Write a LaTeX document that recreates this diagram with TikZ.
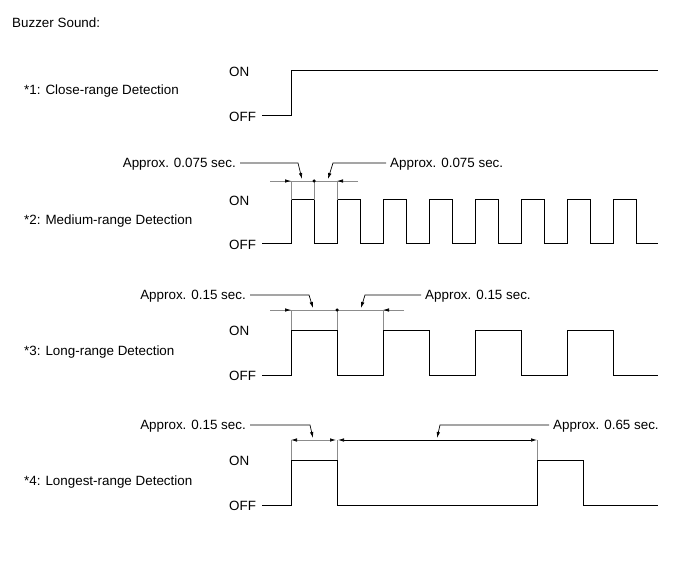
\documentclass[tikz,border=0pt]{standalone}
\usepackage{fontspec}
\setmainfont{Liberation Sans}
\usepackage{tikz}
\usetikzlibrary{calc,arrows.meta}
\tikzset{
    buzzer text/.style={font=\fontsize{13.4}{15}\selectfont, text=black, inner sep=0pt},
    row label/.style={buzzer text, anchor=west},
    level label/.style={buzzer text, anchor=west},
    wave/.style={line width=1pt, black},
    dim line/.style={line width=0.7pt, black!45},
    ext line/.style={line width=0.7pt, black!45},
    dim arrow/.style={line width=0.7pt, black!45, ->},
    leader/.style={line width=0.7pt, black, ->},
    dim dot/.style={circle, fill=black, inner sep=0pt, minimum size=3.5pt},
}

\begin{document}
\begin{tikzpicture}[x=1pt,y=-1pt,>={Latex[length=6pt,width=3.5pt,black]}]
    \useasboundingbox (0,0) rectangle (691,564);

    \node[row label] (title) at (12,23) {Buzzer Sound:};

    %Row labels
    \node[row label] (close) at (24,91) {*1: Close-range Detection};
    \node[row label] (medium) at (24,221) {*2: Medium-range Detection};
    \node[row label] (long) at (24,352) {*3: Long-range Detection};
    \node[row label] (longest) at (24,482) {*4: Longest-range Detection};

    %ON / OFF levels
    \foreach \r/\on/\off in {1/72/117, 2/201/245, 3/331/376, 4/461/506} {
        \node[level label] (on\r) at (229,\on) {ON};
        \node[level label] (off\r) at (229,\off) {OFF};
    }

    %Waveforms
    \draw[wave] (262,116) -- (291,116) -- (291,71) -- (658,71);
    \draw[wave] (262,244) \foreach \x in {291,337,...,613} { -- (\x,244) -- (\x,200) -- (\x+23,200) -- (\x+23,244) } -- (658,244);
    \draw[wave] (262,375) \foreach \x in {291,383,...,567} { -- (\x,375) -- (\x,330) -- (\x+46,330) -- (\x+46,375) } -- (658,375);
    \draw[wave] (262,505) -- (291,505) -- (291,460) -- (337,460) -- (337,505) -- (537,505) -- (537,460) -- (583,460) -- (583,505) -- (658,505);

    %Medium-range dimension
    \coordinate (m-a) at (291,181);
    \coordinate (m-b) at (314,181);
    \coordinate (m-c) at (337,181);
    \draw[dim line] ($(m-a)+(-21,0)$) -- ($(m-c)+(21,0)$);
    \draw[dim arrow] ($(m-a)+(-21,0)$) -- (m-a);
    \draw[dim arrow] ($(m-c)+(21,0)$) -- (m-c);
    \foreach \c in {m-a,m-b,m-c} \draw[ext line] (\c) -- ++(0,19);
    \node[dim dot] (m-dot) at (m-b) {};

    \node[buzzer text, anchor=east] (m-left) at (236,164) {Approx. 0.075 sec.};
    \node[buzzer text, anchor=west] (m-right) at (390,164) {Approx. 0.075 sec.};
    \coordinate (m-left-bend) at (298,163);
    \coordinate (m-left-tip) at (302,179);
    \coordinate (m-right-bend) at (333,163);
    \coordinate (m-right-tip) at (328,179);
    \draw[leader] ($(m-left.east)+(4,-1)$) -- (m-left-bend) -- (m-left-tip);
    \draw[leader] ($(m-right.west)+(-4,-1)$) -- (m-right-bend) -- (m-right-tip);

    %Long-range dimension
    \coordinate (l-a) at (291,310);
    \coordinate (l-b) at (337,310);
    \coordinate (l-c) at (383,310);
    \draw[dim line] ($(l-a)+(-21,0)$) -- ($(l-c)+(21,0)$);
    \draw[dim arrow] ($(l-a)+(-21,0)$) -- (l-a);
    \draw[dim arrow] ($(l-c)+(21,0)$) -- (l-c);
    \foreach \c in {l-a,l-b,l-c} \draw[ext line] (\c) -- ++(0,20);
    \node[dim dot] (l-dot) at (l-b) {};

    \node[buzzer text, anchor=east] (l-left) at (246,296) {Approx. 0.15 sec.};
    \node[buzzer text, anchor=west] (l-right) at (425,296) {Approx. 0.15 sec.};
    \coordinate (l-left-bend) at (309,295);
    \coordinate (l-left-tip) at (313,308);
    \coordinate (l-right-bend) at (365,295);
    \coordinate (l-right-tip) at (361,308);
    \draw[leader] ($(l-left.east)+(4,-1)$) -- (l-left-bend) -- (l-left-tip);
    \draw[leader] ($(l-right.west)+(-4,-1)$) -- (l-right-bend) -- (l-right-tip);

    %Longest-range dimension
    \coordinate (g-a) at (291,440);
    \coordinate (g-b) at (337,440);
    \coordinate (g-c) at (537,440);
    \draw[dim arrow, <->] (g-a) -- ($(g-b)+(-1,0)$);
    \draw[dim arrow, black, <->] ($(g-b)+(1,0)$) -- (g-c);
    \foreach \c in {g-a,g-b,g-c} \draw[ext line] (\c) -- ++(0,20);

    \node[buzzer text, anchor=east] (g-left) at (246,426) {Approx. 0.15 sec.};
    \node[buzzer text, anchor=west] (g-right) at (553,426) {Approx. 0.65 sec.};
    \coordinate (g-left-bend) at (310,425);
    \coordinate (g-left-tip) at (313,438);
    \coordinate (g-right-bend) at (440,425);
    \coordinate (g-right-tip) at (437,438);
    \draw[leader] ($(g-left.east)+(4,-1)$) -- (g-left-bend) -- (g-left-tip);
    \draw[leader] ($(g-right.west)+(-4,-1)$) -- (g-right-bend) -- (g-right-tip);
\end{tikzpicture}
\end{document}
